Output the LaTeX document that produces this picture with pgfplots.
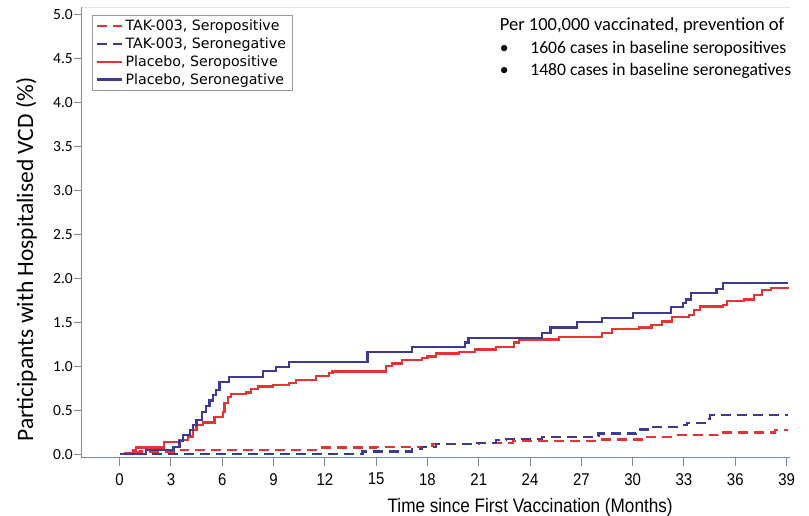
\documentclass[border=0pt]{standalone}
\usepackage{fontspec}
\setmainfont{Carlito}
\newfontfamily\narrowfont[FakeStretch=0.88]{Liberation Sans}
\newfontfamily\legfont{DejaVu Sans}
\usepackage{pgfplots}
\pgfplotsset{compat=1.18}
\definecolor{cred}{RGB}{230,50,50}
\definecolor{cblue}{RGB}{62,58,148}
\definecolor{axgray}{RGB}{125,140,150}

\begin{document}
\begin{tikzpicture}
\begin{axis}[
  name=ax, clip=false,
  scale only axis, width=708pt, height=451pt,
  xmin=-2.2, xmax=39.2, ymin=-0.045, ymax=5.09,
  axis x line*=bottom, axis y line*=left,
  axis line style={axgray, line width=1pt, -},
  xtick={0,3,...,39}, ytick={0,0.5,1,1.5,2,2.5,3,3.5,4,4.5,5},
  tick align=outside, major tick length=8pt,
  tick style={axgray, line width=1pt},
  /pgf/number format/assume math mode=true,
  yticklabel style={font=\fontsize{15.5}{18}\selectfont, inner sep=1pt, /pgf/number format/.cd, fixed, fixed zerofill, precision=1},
  xticklabel style={font=\narrowfont\fontsize{17}{18}\selectfont, inner sep=2pt, yshift=-5pt},
  legend style={at={(axis description cs:0.0141,0.982)}, anchor=north west,
    draw=gray!80, line width=0.8pt, fill=white,
    font=\legfont\fontsize{14.2}{16}\selectfont,
    inner xsep=4pt, inner ysep=2.5pt, row sep=1.5pt, cells={anchor=west}},
  legend image code/.code={\draw[#1] (0pt,0pt) -- (25pt,0pt);},
  every axis plot/.append style={line width=2.2pt, const plot mark left, no marks},
]
\addplot[cred, dash pattern=on 10pt off 6pt] coordinates {
(0,0) (0.8,0.02) (1.2,0.03) (3.3,0.045) (4.0,0.05) (11.5,0.075) (15.0,0.08) (18.3,0.115) (21,0.13) (23,0.15) (28.2,0.165) (30.75,0.197) (32.5,0.215) (35.0,0.245) (38.3,0.27) (39.07,0.27)
};
\addlegendentry{TAK-003, Seropositive}
\addplot[cblue, dash pattern=on 10pt off 6pt] coordinates {
(0,0) (14.2,0.03) (17.1,0.055) (17.7,0.08) (18.5,0.115) (20.8,0.13) (22,0.16) (22.6,0.17) (24.7,0.19) (27.8,0.205) (28.0,0.235) (30.2,0.255) (30.3,0.28) (30.9,0.31) (32.7,0.33) (33.2,0.357) (34.25,0.40) (34.5,0.444) (39.07,0.444)
};
\addlegendentry{TAK-003, Seronegative}
\addplot[cred] coordinates {
(0,0) (0.3,0.015) (0.78,0.04) (0.97,0.075) (2.6,0.14) (3.5,0.16) (4.0,0.2) (4.3,0.27) (4.5,0.33) (4.86,0.36) (5.55,0.425) (6.03,0.48) (6.13,0.58) (6.32,0.65) (6.52,0.68) (7.4,0.70) (7.7,0.74) (8.07,0.77) (8.95,0.785) (9.92,0.81) (10.3,0.84) (11.5,0.89) (12.26,0.92) (12.45,0.94) (15.57,1.0) (15.95,1.03) (16.5,1.07) (17.7,1.09) (18.0,1.11) (18.5,1.145) (19.85,1.165) (20.8,1.19) (22.0,1.22) (23.06,1.27) (23.35,1.30) (24.7,1.305) (25.7,1.33) (28.2,1.375) (28.8,1.42) (30.35,1.44) (31.1,1.47) (31.7,1.51) (32.3,1.56) (33.3,1.58) (33.6,1.64) (33.96,1.68) (35.3,1.70) (35.5,1.74) (36.5,1.76) (37.1,1.81) (37.55,1.87) (38.1,1.895) (39.07,1.905)
};
\addlegendentry{Placebo, Seropositive}
\addplot[cblue] coordinates {
(0,0) (1.56,0.05) (3.15,0.08) (3.5,0.15) (3.7,0.22) (4.1,0.27) (4.3,0.33) (4.5,0.39) (4.8,0.48) (5.06,0.55) (5.25,0.61) (5.45,0.67) (5.65,0.73) (5.84,0.82) (6.38,0.88) (8.37,0.945) (9.15,0.995) (9.92,1.045) (14.5,1.16) (17.1,1.215) (20.2,1.27) (20.4,1.32) (24.7,1.375) (25.2,1.44) (26.75,1.50) (28.2,1.55) (30.0,1.61) (32.25,1.67) (32.95,1.72) (33.1,1.76) (33.4,1.83) (34.9,1.875) (35.3,1.945) (39.07,1.945)
};
\addlegendentry{Placebo, Seronegative}
\draw[gray!20, line width=0.8pt] (rel axis cs:0,1) -- (rel axis cs:1,1);
\node[anchor=base west, inner sep=0pt, font=\fontsize{18.5}{22}\selectfont] at (axis description cs:0.590,0.947) {Per 100,000 vaccinated, prevention of};
\node[anchor=base west, inner sep=0pt, font=\fontsize{17.6}{22}\selectfont] at (axis description cs:0.590,0.898) {\textbullet};
\node[anchor=base west, inner sep=0pt, font=\fontsize{17.6}{22}\selectfont] at (axis description cs:0.633,0.898) {1606 cases in baseline seropositives};
\node[anchor=base west, inner sep=0pt, font=\fontsize{17.6}{22}\selectfont] at (axis description cs:0.590,0.849) {\textbullet};
\node[anchor=base west, inner sep=0pt, font=\fontsize{17.6}{22}\selectfont] at (axis description cs:0.633,0.849) {1480 cases in baseline seronegatives};
\node[rotate=90, anchor=base, inner sep=0pt, font=\fontsize{23.5}{28}\selectfont] at (axis description cs:-0.069,0.44) {Participants with Hospitalised VCD (\%)};
\node[anchor=base, inner sep=0pt, font=\narrowfont\fontsize{19.5}{22}\selectfont] at (axis description cs:0.633,-0.12) {Time since First Vaccination (Months)};
\end{axis}
\pgfresetboundingbox
\useasboundingbox (ax.south west) ++(-82pt,-58pt) rectangle ++(809pt,516pt);
\end{tikzpicture}
\end{document}
